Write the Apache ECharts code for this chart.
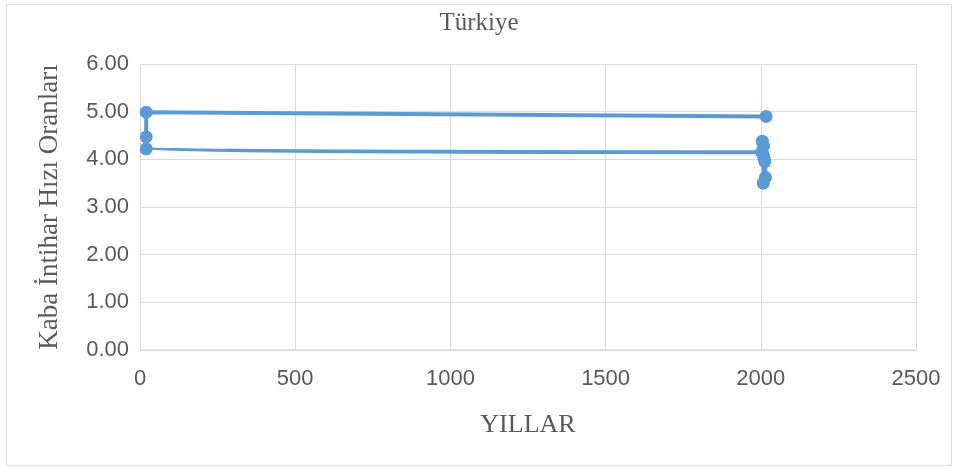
<!DOCTYPE html>
<html><head><meta charset="utf-8">
<script src="https://cdn.jsdelivr.net/npm/echarts@6/dist/echarts.min.js"></script>
<style>html,body{margin:0;padding:0;background:#fff}#c{width:958px;height:470px}</style>
</head><body><div id="c"></div>
<script>
const titleText = "Türkiye";
const xAxisName = "YILLAR";
const yAxisName = "Kaba İntihar Hızı Oranları";
const years = [2017, 20, 20, 20, 2003, 2005, 2007, 2009, 2011, 2013, 2015, 2008, 2010];
const rates = [4.90, 4.99, 4.47, 4.22, 4.15, 4.38, 4.10, 4.28, 4.00, 3.95, 3.62, 3.50, 4.05];
const xTicks = [0, 500, 1000, 1500, 2000, 2500];
const yTicks = [0, 1, 2, 3, 4, 5, 6];

const chart = echarts.init(document.getElementById('c'));
const serif = "'Liberation Serif', 'DejaVu Serif', serif";
const sans = "'Liberation Sans', sans-serif";
chart.setOption({
  animation: false,
  title: {text: titleText, left: 'center', top: 6, textStyle: {fontFamily: serif, fontWeight: 'normal', fontSize: 25, color: '#595959'}},
  graphic: [{type: 'rect', shape: {x: 6.5, y: 4.5, width: 945, height: 461}, style: {fill: 'none', stroke: '#d9d9d9', lineWidth: 1}}],
  grid: {left: 140, right: 42, top: 64, bottom: 120},
  xAxis: {type: 'value', min: xTicks[0], max: xTicks[xTicks.length-1], interval: 500,
    name: xAxisName, nameLocation: 'middle', nameGap: 62,
    nameTextStyle: {fontFamily: serif, fontSize: 26, color: '#595959'},
    axisLine: {show: true, lineStyle: {color: '#d9d9d9', width: 1.5}}, axisTick: {show: false},
    axisLabel: {fontFamily: sans, fontSize: 22, color: '#595959', margin: 18, formatter: v => String(v)},
    splitLine: {show: true, lineStyle: {color: '#d9d9d9'}}},
  yAxis: {type: 'value', min: yTicks[0], max: yTicks[yTicks.length-1], interval: 1,
    name: yAxisName, nameLocation: 'middle', nameGap: 77,
    nameTextStyle: {fontFamily: serif, fontSize: 27, color: '#595959'},
    axisLine: {show: false}, axisTick: {show: false},
    axisLabel: {fontFamily: sans, fontSize: 22, color: '#595959', margin: 11, formatter: v => v.toFixed(2)},
    splitLine: {show: true, lineStyle: {color: '#d9d9d9'}}},
  series: [{type: 'line', data: years.map((y, i) => [y, rates[i]]), smooth: 1, clip: false,
    symbol: 'circle', symbolSize: 13, showSymbol: true,
    lineStyle: {color: '#5b9bd5', width: 4}, itemStyle: {color: '#5b9bd5'}}]
});
</script></body></html>
